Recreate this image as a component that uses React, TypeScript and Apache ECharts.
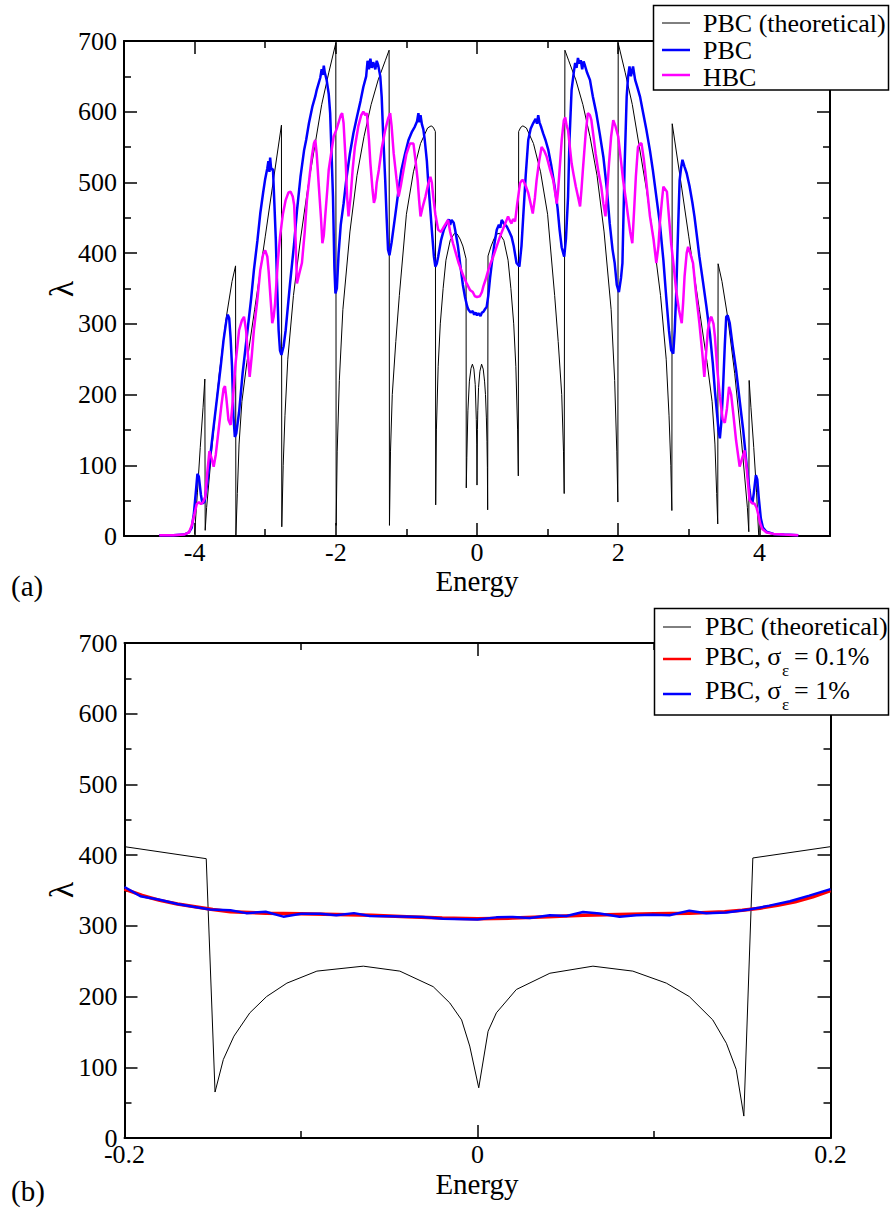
import React, { useEffect, useRef } from "react";
import * as echarts from "echarts";

const FONT = '"Liberation Serif", "Times New Roman", serif';

// ---------- Panel (a) ----------
const topXMajor = [-4, -2, 0, 2, 4];
const topXMinor = [-3, -1, 1, 3];

const pbcTheoreticalA: number[][] = [
  [-4.0, 3], [-3.96, 62], [-3.92, 125], [-3.88, 182], [-3.855, 222],
  [-3.85, 8], [-3.83, 40], [-3.75, 130], [-3.65, 230], [-3.55, 310], [-3.47, 360], [-3.42, 382],
  [-3.415, 1], [-3.395, 60], [-3.37, 130], [-3.33, 190], [-3.26, 245], [-3.15, 320], [-3.0, 423], [-2.9, 492], [-2.77, 581],
  [-2.765, 13], [-2.745, 100], [-2.72, 170], [-2.68, 250], [-2.6, 340], [-2.5, 420], [-2.4, 490], [-2.3, 550], [-2.2, 610], [-2.1, 655], [-2.0, 697],
  [-1.995, 15], [-1.98, 120], [-1.95, 220], [-1.9, 320], [-1.8, 430], [-1.7, 510], [-1.6, 565], [-1.5, 610], [-1.4, 645], [-1.3, 672], [-1.245, 687],
  [-1.24, 15], [-1.225, 120], [-1.2, 200], [-1.15, 275], [-1.1, 340], [-1.0, 455], [-0.9, 515], [-0.8, 555], [-0.7, 577], [-0.65, 580], [-0.62, 578], [-0.59, 572],
  [-0.585, 44], [-0.575, 150], [-0.55, 240], [-0.52, 300], [-0.48, 350], [-0.44, 390], [-0.38, 418], [-0.32, 428], [-0.28, 427], [-0.24, 420], [-0.2, 410], [-0.155, 392],
  [-0.152, 68], [-0.144, 111], [-0.129, 177], [-0.108, 219], [-0.085, 237], [-0.065, 243], [-0.044, 236], [-0.025, 214], [-0.01, 165], [-0.004, 130], [0, 72],
  [0.006, 151], [0.011, 177], [0.022, 210], [0.041, 233], [0.065, 243], [0.088, 236], [0.107, 219], [0.12, 200], [0.133, 167], [0.141, 134], [0.147, 97], [0.151, 37],
  [0.156, 396], [0.2, 410], [0.24, 420], [0.28, 427], [0.32, 428], [0.38, 418], [0.44, 390], [0.48, 350], [0.52, 300], [0.55, 240], [0.575, 150], [0.585, 85],
  [0.59, 572], [0.62, 578], [0.65, 580], [0.7, 577], [0.8, 555], [0.9, 515], [1.0, 455], [1.1, 340], [1.15, 275], [1.2, 200], [1.225, 120], [1.235, 60],
  [1.245, 687], [1.3, 672], [1.4, 645], [1.5, 610], [1.6, 565], [1.7, 510], [1.8, 430], [1.9, 320], [1.95, 220], [1.98, 120], [1.995, 48],
  [2.0, 697], [2.1, 655], [2.2, 610], [2.3, 550], [2.4, 490], [2.5, 420], [2.6, 340], [2.68, 250], [2.72, 170], [2.745, 100], [2.76, 36],
  [2.765, 583], [2.9, 492], [3.0, 423], [3.15, 320], [3.26, 245], [3.33, 190], [3.37, 130], [3.395, 60], [3.41, 17],
  [3.415, 385], [3.47, 360], [3.55, 310], [3.65, 230], [3.75, 130], [3.83, 40], [3.85, 6],
  [3.855, 220], [3.88, 182], [3.92, 125], [3.96, 62], [3.99, 1],
];

const pbcA: number[][] = [
  [-4.5, 1], [-4.3, 1], [-4.15, 2], [-4.08, 5], [-4.04, 12], [-4.01, 32], [-3.98, 65], [-3.96, 88], [-3.94, 84], [-3.91, 58], [-3.89, 46],
  [-3.86, 48], [-3.82, 75], [-3.78, 112], [-3.73, 155], [-3.68, 197], [-3.63, 240], [-3.59, 277], [-3.55, 305], [-3.53, 313], [-3.51, 308],
  [-3.49, 280], [-3.47, 240], [-3.45, 170], [-3.43, 140], [-3.41, 145], [-3.39, 160], [-3.37, 175], [-3.32, 230], [-3.25, 291], [-3.2, 335],
  [-3.16, 376], [-3.11, 418], [-3.07, 456], [-3.03, 485], [-3.0, 505], [-2.97, 520], [-2.955, 530], [-2.94, 515], [-2.93, 535], [-2.915, 518],
  [-2.89, 519], [-2.87, 470], [-2.85, 420], [-2.83, 350], [-2.81, 291], [-2.79, 262], [-2.77, 256], [-2.74, 268], [-2.71, 291], [-2.65, 355],
  [-2.59, 414], [-2.55, 460], [-2.5, 508], [-2.45, 545], [-2.42, 560], [-2.38, 584], [-2.33, 608], [-2.29, 622], [-2.27, 631], [-2.22, 648],
  [-2.2, 660], [-2.185, 652], [-2.17, 665], [-2.155, 655], [-2.13, 645], [-2.1, 625], [-2.08, 598], [-2.06, 540], [-2.04, 480], [-2.02, 380],
  [-2.005, 343], [-1.985, 350], [-1.96, 400], [-1.93, 440], [-1.89, 470], [-1.85, 505], [-1.8, 541], [-1.75, 570], [-1.7, 593], [-1.65, 615],
  [-1.61, 635], [-1.57, 650], [-1.55, 672], [-1.53, 660], [-1.51, 675], [-1.49, 662], [-1.47, 670], [-1.44, 660], [-1.42, 672], [-1.4, 666],
  [-1.37, 650], [-1.35, 621], [-1.33, 570], [-1.3, 503], [-1.28, 450], [-1.26, 405], [-1.24, 397], [-1.21, 415], [-1.16, 452], [-1.11, 490],
  [-1.07, 518], [-1.02, 540], [-0.97, 560], [-0.92, 572], [-0.88, 579], [-0.85, 586], [-0.83, 598], [-0.815, 585], [-0.8, 595], [-0.78, 582],
  [-0.76, 575], [-0.74, 560], [-0.71, 530], [-0.69, 499], [-0.66, 460], [-0.64, 433], [-0.61, 395], [-0.59, 381], [-0.57, 385], [-0.55, 395],
  [-0.51, 418], [-0.47, 433], [-0.43, 442], [-0.4, 448], [-0.38, 440], [-0.36, 447], [-0.33, 443], [-0.31, 433], [-0.27, 410], [-0.24, 386],
  [-0.2, 355], [-0.17, 338], [-0.14, 325], [-0.12, 320], [-0.09, 316], [-0.06, 318], [-0.04, 313], [-0.02, 316], [0, 312], [0.02, 315],
  [0.05, 311], [0.07, 316], [0.09, 317], [0.115, 321], [0.137, 324], [0.16, 340], [0.185, 365], [0.21, 386], [0.245, 412], [0.28, 433],
  [0.31, 440], [0.33, 436], [0.35, 447], [0.38, 442], [0.42, 438], [0.45, 432], [0.49, 423], [0.52, 410], [0.56, 386], [0.6, 381],
  [0.63, 410], [0.655, 452], [0.69, 510], [0.726, 560], [0.76, 576], [0.797, 584], [0.83, 590], [0.85, 583], [0.867, 595], [0.885, 585],
  [0.91, 578], [0.938, 569], [0.97, 560], [1.01, 546], [1.05, 525], [1.1, 494], [1.14, 465], [1.17, 433], [1.2, 408], [1.235, 395],
  [1.26, 420], [1.29, 480], [1.31, 560], [1.34, 631], [1.37, 655], [1.39, 669], [1.41, 662], [1.43, 676], [1.45, 668], [1.47, 673],
  [1.49, 660], [1.51, 671], [1.53, 665], [1.56, 655], [1.6, 645], [1.64, 622], [1.69, 598], [1.74, 568], [1.79, 536], [1.84, 490],
  [1.88, 442], [1.92, 405], [1.95, 386], [1.98, 355], [2.01, 345], [2.04, 365], [2.06, 386], [2.09, 520], [2.12, 621], [2.14, 650],
  [2.16, 664], [2.18, 650], [2.21, 664], [2.24, 645], [2.27, 635], [2.31, 621], [2.35, 600], [2.4, 574], [2.45, 545], [2.49, 518],
  [2.54, 480], [2.59, 442], [2.64, 390], [2.68, 338], [2.72, 290], [2.75, 263], [2.78, 258], [2.8, 290], [2.82, 338], [2.85, 440],
  [2.87, 503], [2.89, 520], [2.91, 532], [2.94, 522], [2.97, 513], [3.01, 495], [3.05, 472], [3.08, 452], [3.12, 420], [3.15, 395],
  [3.2, 360], [3.25, 324], [3.3, 285], [3.34, 244], [3.37, 205], [3.4, 173], [3.42, 150], [3.44, 138], [3.46, 160], [3.48, 197],
  [3.51, 270], [3.53, 310], [3.55, 312], [3.58, 301], [3.62, 270], [3.67, 235], [3.72, 192], [3.77, 150], [3.82, 100], [3.86, 65],
  [3.88, 50], [3.9, 46], [3.92, 60], [3.95, 86], [3.97, 80], [3.99, 55], [4.02, 25], [4.05, 12], [4.1, 6], [4.2, 3], [4.35, 2], [4.55, 1],
];

const hbcA: number[][] = [
  [-4.5, 1], [-4.3, 1], [-4.15, 2], [-4.08, 5], [-4.04, 15], [-4.0, 32], [-3.97, 45], [-3.94, 48], [-3.91, 45], [-3.88, 48], [-3.85, 55],
  [-3.82, 90], [-3.79, 120], [-3.76, 110], [-3.73, 98], [-3.7, 115], [-3.66, 150], [-3.62, 185], [-3.59, 208], [-3.57, 212], [-3.55, 195],
  [-3.52, 164], [-3.49, 157], [-3.46, 190], [-3.42, 244], [-3.37, 291], [-3.33, 305], [-3.3, 310], [-3.27, 290], [-3.25, 263], [-3.22, 225],
  [-3.19, 255], [-3.16, 291], [-3.11, 335], [-3.07, 376], [-3.03, 398], [-3.0, 404], [-2.97, 395], [-2.95, 373], [-2.92, 330], [-2.9, 301],
  [-2.88, 310], [-2.86, 329], [-2.82, 390], [-2.79, 423], [-2.75, 455], [-2.71, 475], [-2.67, 486], [-2.64, 487], [-2.61, 480], [-2.59, 468],
  [-2.57, 420], [-2.55, 357], [-2.52, 370], [-2.48, 386], [-2.44, 430], [-2.41, 474], [-2.37, 510], [-2.34, 536], [-2.31, 555], [-2.29, 560],
  [-2.27, 540], [-2.24, 494], [-2.21, 450], [-2.19, 414], [-2.17, 425], [-2.15, 452], [-2.12, 490], [-2.1, 518], [-2.06, 545], [-2.03, 565],
  [-1.99, 575], [-1.96, 585], [-1.93, 595], [-1.91, 598], [-1.89, 584], [-1.86, 530], [-1.84, 480], [-1.82, 452], [-1.79, 480], [-1.76, 520],
  [-1.73, 550], [-1.68, 580], [-1.64, 595], [-1.61, 600], [-1.58, 595], [-1.56, 598], [-1.53, 560], [-1.51, 527], [-1.48, 490], [-1.46, 471],
  [-1.44, 478], [-1.42, 500], [-1.39, 518], [-1.35, 548], [-1.3, 574], [-1.26, 590], [-1.23, 598], [-1.21, 580], [-1.18, 541], [-1.14, 505],
  [-1.11, 480], [-1.08, 495], [-1.04, 518], [-1.0, 540], [-0.95, 555], [-0.9, 555], [-0.87, 530], [-0.84, 503], [-0.82, 475], [-0.8, 452],
  [-0.77, 465], [-0.73, 480], [-0.69, 498], [-0.66, 508], [-0.64, 500], [-0.62, 480], [-0.59, 455], [-0.55, 433], [-0.51, 430], [-0.47, 437],
  [-0.44, 442], [-0.41, 447], [-0.38, 430], [-0.34, 414], [-0.3, 400], [-0.26, 386], [-0.22, 375], [-0.19, 367], [-0.15, 358], [-0.1, 348],
  [-0.06, 345], [-0.03, 339], [0.0, 338], [0.04, 339], [0.07, 345], [0.09, 353], [0.12, 362], [0.16, 376], [0.19, 385], [0.23, 395],
  [0.28, 410], [0.325, 423], [0.36, 432], [0.4, 442], [0.44, 452], [0.47, 445], [0.49, 442], [0.51, 448], [0.54, 445], [0.57, 470],
  [0.61, 499], [0.635, 503], [0.655, 503], [0.69, 495], [0.726, 485], [0.76, 470], [0.79, 456], [0.82, 478], [0.844, 503], [0.88, 530],
  [0.915, 550], [0.95, 545], [0.985, 537], [1.03, 520], [1.08, 503], [1.13, 470], [1.15, 490], [1.17, 518], [1.2, 560], [1.23, 588],
  [1.25, 592], [1.27, 580], [1.29, 574], [1.31, 555], [1.34, 527], [1.37, 510], [1.4, 494], [1.43, 480], [1.46, 466], [1.48, 490],
  [1.5, 518], [1.54, 570], [1.57, 598], [1.6, 595], [1.62, 588], [1.65, 565], [1.68, 541], [1.72, 515], [1.76, 494], [1.79, 470],
  [1.82, 452], [1.845, 490], [1.87, 527], [1.9, 565], [1.93, 588], [1.96, 580], [2.0, 565], [2.04, 530], [2.07, 503], [2.11, 475],
  [2.14, 452], [2.17, 430], [2.2, 414], [2.225, 460], [2.25, 508], [2.28, 550], [2.31, 555], [2.33, 555], [2.36, 535], [2.38, 518],
  [2.42, 480], [2.45, 452], [2.5, 420], [2.54, 386], [2.57, 410], [2.59, 442], [2.62, 475], [2.64, 494], [2.69, 487], [2.72, 450],
  [2.75, 414], [2.79, 378], [2.82, 348], [2.86, 320], [2.9, 301], [2.92, 330], [2.94, 367], [2.97, 400], [2.99, 409], [3.02, 400],
  [3.06, 386], [3.1, 345], [3.15, 301], [3.19, 260], [3.22, 225], [3.25, 265], [3.27, 291], [3.3, 307], [3.32, 310], [3.35, 300],
  [3.37, 282], [3.4, 240], [3.44, 197], [3.48, 165], [3.51, 160], [3.54, 180], [3.57, 211], [3.6, 200], [3.63, 173], [3.67, 135],
  [3.72, 98], [3.75, 108], [3.79, 121], [3.82, 95], [3.86, 51], [3.9, 46], [3.93, 46], [3.96, 40], [3.98, 32], [4.01, 18], [4.04, 10],
  [4.1, 5], [4.2, 3], [4.35, 2], [4.55, 1],
];

// ---------- Panel (b) ----------
const pbcTheoreticalB: number[][] = [
  [-0.2, 412], [-0.1537, 395], [-0.1487, 65], [-0.144, 111], [-0.138, 144], [-0.129, 177], [-0.1195, 200], [-0.108, 219],
  [-0.091, 236], [-0.0647, 243], [-0.044, 236], [-0.0251, 214], [-0.0157, 191], [-0.009, 167], [-0.0044, 130], [0.0007, 71],
  [0.006, 151], [0.0107, 177], [0.022, 210], [0.041, 233], [0.0654, 243], [0.088, 236], [0.107, 219], [0.12, 200], [0.1333, 167],
  [0.141, 134], [0.1466, 97], [0.1509, 31], [0.156, 396], [0.2, 412],
];

const pbcSigma01: number[][] = [
  [-0.2, 352], [-0.19, 343], [-0.18, 336], [-0.17, 331], [-0.16, 327], [-0.15, 323], [-0.14, 320], [-0.12, 318], [-0.1, 317],
  [-0.08, 316], [-0.06, 315], [-0.04, 313], [-0.02, 311], [0, 310], [0.02, 311], [0.04, 313], [0.06, 315], [0.08, 316], [0.1, 317],
  [0.12, 318], [0.14, 320], [0.15, 322], [0.16, 325], [0.17, 329], [0.18, 334], [0.19, 341], [0.2, 350],
];

const pbcSigma1: number[][] = [
  [-0.2, 355], [-0.191, 342], [-0.18, 337], [-0.17, 331], [-0.161, 327], [-0.1515, 323], [-0.14, 322], [-0.131, 318], [-0.12, 320],
  [-0.11, 313], [-0.1, 317], [-0.089, 317], [-0.08, 315], [-0.07, 318], [-0.061, 314], [-0.05, 313.5], [-0.031, 312.5], [-0.0195, 310],
  [0, 309], [0.0107, 312], [0.02, 312.5], [0.0296, 311], [0.041, 315], [0.0504, 314], [0.0598, 319.5], [0.0692, 317.5], [0.0805, 313],
  [0.09, 315], [0.0994, 315.7], [0.1088, 315], [0.12, 321.5], [0.1296, 317.7], [0.141, 319], [0.154, 323], [0.1654, 328.6],
  [0.177, 334.7], [0.188, 342.7], [0.2, 352],
];

const yTicks = { min: 0, max: 700, interval: 100 };

function makeOption(): any {
  const tickStyle = { color: "#000", width: 1.5 };
  const lineStyle = { color: "#000", width: 2 };
  const labelStyle = { color: "#000", fontSize: 26, fontFamily: FONT };

  const xBase = (gridIndex: number, position: string, extra: any) => ({
    type: "value",
    gridIndex,
    position,
    splitLine: { show: false },
    axisLine: { show: true, onZero: false, lineStyle },
    ...extra,
  });

  const xAxis = [
    xBase(0, "bottom", {
      min: -5, max: 5,
      axisTick: { show: true, inside: true, length: 13, lineStyle: tickStyle, customValues: topXMajor },
      axisLabel: { show: true, margin: 3, customValues: topXMajor, ...labelStyle },
    }),
    xBase(0, "bottom", {
      min: -5, max: 5,
      axisLine: { show: false, onZero: false },
      axisTick: { show: true, inside: true, length: 7, lineStyle: tickStyle, customValues: topXMinor },
      axisLabel: { show: false },
    }),
    xBase(0, "top", {
      min: -5, max: 5,
      axisTick: { show: true, inside: true, length: 13, lineStyle: tickStyle, customValues: topXMajor },
      axisLabel: { show: false },
    }),
    xBase(0, "top", {
      min: -5, max: 5,
      axisLine: { show: false, onZero: false },
      axisTick: { show: true, inside: true, length: 7, lineStyle: tickStyle, customValues: topXMinor },
      axisLabel: { show: false },
    }),
    xBase(1, "bottom", {
      min: -0.2, max: 0.2, interval: 0.2,
      axisTick: { show: true, inside: true, length: 13, lineStyle: tickStyle },
      minorTick: { show: true, splitNumber: 2, length: 7, lineStyle: tickStyle },
      axisLabel: { show: true, margin: 3, ...labelStyle },
    }),
    xBase(1, "top", {
      min: -0.2, max: 0.2, interval: 0.2,
      axisTick: { show: true, inside: true, length: 13, lineStyle: tickStyle },
      minorTick: { show: true, splitNumber: 2, length: 7, lineStyle: tickStyle },
      axisLabel: { show: false },
    }),
  ];

  const yBase = (gridIndex: number, position: string, showLabel: boolean) => ({
    type: "value",
    gridIndex,
    position,
    ...yTicks,
    splitLine: { show: false },
    axisLine: { show: true, onZero: false, lineStyle },
    axisTick: { show: true, inside: true, length: 13, lineStyle: tickStyle },
    minorTick: { show: true, splitNumber: 2, length: 7, lineStyle: tickStyle },
    axisLabel: { show: showLabel, margin: 7, ...labelStyle },
  });

  const yAxis = [
    yBase(0, "left", true),
    yBase(0, "right", false),
    yBase(1, "left", true),
    yBase(1, "right", false),
  ];

  const lineSeries = (data: number[][], xi: number, yi: number, color: string, width: number) => ({
    type: "line",
    xAxisIndex: xi,
    yAxisIndex: yi,
    data,
    showSymbol: false,
    symbol: "none",
    lineStyle: { color, width },
    itemStyle: { color },
    silent: true,
  });

  const text = (t: string, x: number, y: number, size: number, extra: any = {}) => ({
    type: "text",
    x, y, z: 110,
    style: { text: t, fontSize: size, fontFamily: FONT, fill: "#000", align: "left", verticalAlign: "middle", ...extra },
  });
  const seg = (x1: number, x2: number, y: number, color: string, w: number) => ({
    type: "line",
    z: 110,
    shape: { x1, y1: y, x2, y2: y },
    style: { stroke: color, lineWidth: w },
  });

  const graphic = [
    // axis titles
    { ...text("λ", 61, 289, 34, { align: "center" }), rotation: Math.PI / 2 },
    text("Energy", 477, 581, 29, { align: "center" }),
    text("(a)", 11, 586, 29),
    { ...text("λ", 61, 890, 34, { align: "center" }), rotation: Math.PI / 2 },
    text("Energy", 477, 1184, 29, { align: "center" }),
    text("(b)", 11, 1191, 29),
    // legend (a)
    { type: "rect", z: 105, shape: { x: 653.5, y: 5.5, width: 235, height: 84.5 }, style: { fill: "#fff", stroke: "#000", lineWidth: 1.5 } },
    seg(662, 690, 23, "#000", 1),
    text("PBC (theoretical)", 703, 23, 26),
    seg(662, 690, 50, "#0000ff", 2.5),
    text("PBC", 703, 50, 26),
    seg(662, 690, 75, "#ff00ff", 2.5),
    text("HBC", 703, 77, 26),
    // legend (b)
    { type: "rect", z: 105, shape: { x: 654.5, y: 608.5, width: 234, height: 106.5 }, style: { fill: "#fff", stroke: "#000", lineWidth: 1.5 } },
    seg(663, 691, 627, "#000", 1),
    text("PBC (theoretical)", 705, 626, 26),
    seg(663, 691, 659, "#ff0000", 2.5),
    text("PBC, σ", 705, 656, 26),
    text("ε", 782, 670, 17),
    text("= 0.1%", 794, 656, 26),
    seg(663, 691, 694, "#0000ff", 2.5),
    text("PBC, σ", 705, 690, 26),
    text("ε", 782, 704, 17),
    text("= 1%", 794, 690, 26),
  ];

  return {
    animation: false,
    backgroundColor: "#fff",
    grid: [
      { left: 124, top: 41, width: 706, height: 495, containLabel: false },
      { left: 124.5, top: 643, width: 706, height: 495, containLabel: false },
    ],
    xAxis,
    yAxis,
    series: [
      lineSeries(pbcTheoreticalA, 0, 0, "#000000", 1),
      lineSeries(pbcA, 0, 0, "#0000ff", 2.5),
      lineSeries(hbcA, 0, 0, "#ff00ff", 2.5),
      lineSeries(pbcTheoreticalB, 4, 2, "#000000", 1),
      lineSeries(pbcSigma01, 4, 2, "#ff0000", 3.5),
      lineSeries(pbcSigma1, 4, 2, "#0000ff", 2.5),
    ],
    graphic,
  };
}

export default function App() {
  const ref = useRef<HTMLDivElement>(null);
  useEffect(() => {
    if (!ref.current) return;
    const chart = echarts.init(ref.current, undefined, { renderer: "svg" });
    chart.setOption(makeOption());
    return () => chart.dispose();
  }, []);
  return (
    <div
      ref={ref}
      style={{ position: "absolute", left: 0, top: 0, width: 890, height: 1210, background: "#fff" }}
    />
  );
}
